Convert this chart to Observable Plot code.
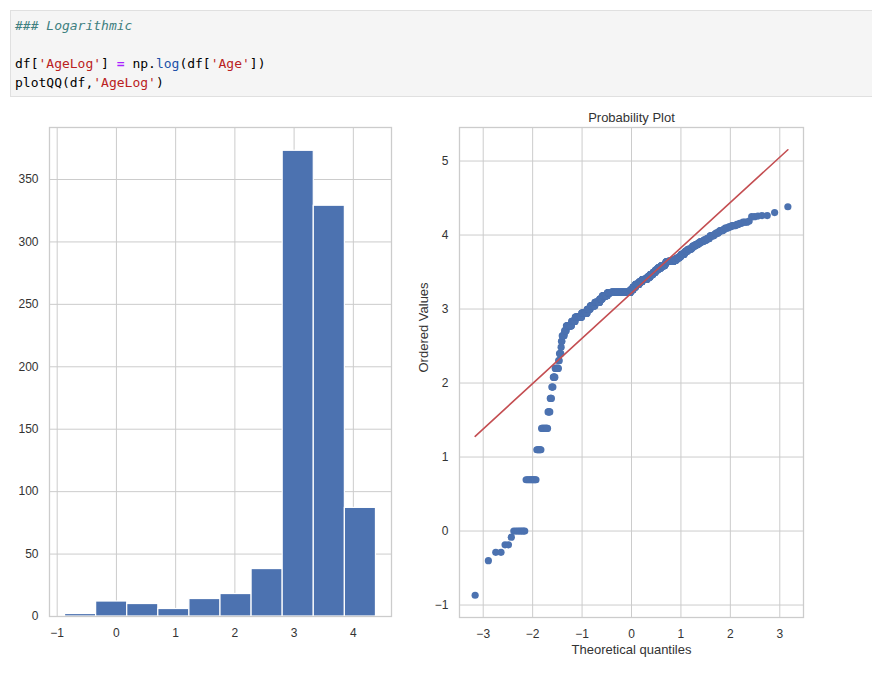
<!DOCTYPE html>
<html><head><meta charset="utf-8">
<script src="https://cdn.jsdelivr.net/npm/d3@7"></script>
<script src="https://cdn.jsdelivr.net/npm/@observablehq/plot@0.6"></script>
<style>
html,body{margin:0;padding:0;background:#fff;}
body{width:872px;height:675px;overflow:hidden;position:relative;font-family:"Liberation Sans",Arial,sans-serif;}
#code{position:absolute;left:10px;top:10px;width:870px;height:87px;background:#f5f5f5;border:1px solid #e0e0e0;box-sizing:border-box;font-family:"DejaVu Sans Mono",monospace;font-size:13px;line-height:19px;padding:5px 0 0 4px;color:#000;}
#code div{white-space:pre;height:19px;}
.cm{color:#408080;font-style:italic}
.s{color:#ba2121}
.o{color:#aa22ff;font-weight:bold}
.f{color:#2050a8}
#p1{position:absolute;left:0;top:100px;}
#p2{position:absolute;left:400px;top:100px;}
</style></head>
<body>
<div id="code"><div class="cm">### Logarithmic</div><div></div><div>df[<span class="s">'AgeLog'</span>] <span class="o">=</span> np.<span class="f">log</span>(df[<span class="s">'Age'</span>])</div><div>plotQQ(df,<span class="s">'AgeLog'</span>)</div></div>
<div id="p1"></div>
<div id="p2"></div>
<script>
// Titanic ages (distinct values and how many passengers have each)
const ageValues = [0.42,0.67,0.75,0.83,0.92,1,2,3,4,5,6,7,8,9,10,11,12,13,14,14.5,15,16,17,18,19,20,20.5,21,22,23,23.5,24,24.5,25,26,27,28,28.5,29,30,30.5,31,32,32.5,33,34,34.5,35,36,36.5,37,38,39,40,40.5,41,42,43,44,45,45.5,46,47,48,49,50,51,52,53,54,55,55.5,56,57,58,59,60,61,62,63,64,65,66,70,70.5,71,74,80];
const ageCounts = [1,1,2,2,1,7,10,6,10,4,3,3,4,8,2,4,1,2,6,1,5,17,13,26,25,15,1,24,27,15,1,30,1,23,18,18,25,2,20,25,2,17,18,2,15,15,1,18,22,1,6,11,14,13,2,6,13,5,9,12,2,3,9,8,6,9,7,6,1,8,2,1,4,2,5,2,4,3,4,2,2,3,1,2,1,2,1,1];
// missing ages filled with class means
const fillValues = [25.14, 29.88, 38.23];
const fillCounts = [136, 11, 30];

const histXTicks = [-1,0,1,2,3,4];
const histYTicks = [0,50,100,150,200,250,300,350];
const qqXTicks = [-3,-2,-1,0,1,2,3];
const qqYTicks = [-1,0,1,2,3,4,5];

const blue = "#4c72b0", red = "#c44e52", gridC = "#cccccc", textC = "#333333";
const fmt = d => d < 0 ? "\u2212" + Math.abs(d) : String(d);

// build the column
const ages = [];
ageValues.forEach((v,i)=>{for(let k=0;k<ageCounts[i];k++) ages.push(v);});
fillValues.forEach((v,i)=>{for(let k=0;k<fillCounts[i];k++) ages.push(v);});
const ageLog = ages.map(a => Math.log(a));

// histogram (10 equal bins, like plt.hist)
const lo = d3.min(ageLog), hi = d3.max(ageLog);
const edges = d3.range(11).map(i => lo + i*(hi-lo)/10);
const bins = d3.bin().domain([lo,hi]).thresholds(edges.slice(1,-1))(ageLog)
  .map(b => ({x1:b.x0, x2:b.x1, n:b.length}));
const maxN = d3.max(bins, b=>b.n);

const style = {fontSize:"12px", fontFamily:"'Liberation Sans', Arial, sans-serif", color:textC, background:"transparent", overflow:"visible"};

const h = Plot.plot({
  width: 400, height: 556,
  marginLeft: 49, marginRight: 9, marginTop: 27, marginBottom: 40,
  style,
  x: {domain: [lo - 0.05*(hi-lo), hi + 0.05*(hi-lo)]},
  y: {domain: [0, maxN*1.05]},
  marks: [
    Plot.gridX(histXTicks, {stroke: gridC, strokeOpacity: 1, strokeWidth: 1}),
    Plot.gridY(histYTicks, {stroke: gridC, strokeOpacity: 1, strokeWidth: 1}),
    Plot.rectY(bins, {x1:"x1", x2:"x2", y:"n", fill: blue, stroke: "#fff", strokeWidth: 1.2, inset: 0}),
    Plot.frame({stroke: gridC, strokeWidth: 1.3}),
    Plot.axisX(histXTicks, {tickSize: 0, tickPadding: 12, tickFormat: fmt, label: null}),
    Plot.axisY(histYTicks, {tickSize: 0, tickPadding: 11, tickFormat: fmt, label: null})
  ]
});
document.getElementById("p1").appendChild(h);

// probability plot (Filliben order statistic medians)
const ppf = p => {
  const a=[-3.969683028665376e+01,2.209460984245205e+02,-2.759285104469687e+02,1.383577518672690e+02,-3.066479806614716e+01,2.506628277459239e+00];
  const b=[-5.447609879822406e+01,1.615858368580409e+02,-1.556989798598866e+02,6.680131188771972e+01,-1.328068155288572e+01];
  const c=[-7.784894002430293e-03,-3.223964580411365e-01,-2.400758277161838e+00,-2.549732539343734e+00,4.374664141464968e+00,2.938163982698783e+00];
  const d=[7.784695709041462e-03,3.224671290700398e-01,2.445134137142996e+00,3.754408661907416e+00];
  const pl=0.02425; let q,r;
  if(p<pl){q=Math.sqrt(-2*Math.log(p));return (((((c[0]*q+c[1])*q+c[2])*q+c[3])*q+c[4])*q+c[5])/((((d[0]*q+d[1])*q+d[2])*q+d[3])*q+1);}
  if(p<=1-pl){q=p-0.5;r=q*q;return (((((a[0]*r+a[1])*r+a[2])*r+a[3])*r+a[4])*r+a[5])*q/(((((b[0]*r+b[1])*r+b[2])*r+b[3])*r+b[4])*r+1);}
  q=Math.sqrt(-2*Math.log(1-p));return -(((((c[0]*q+c[1])*q+c[2])*q+c[3])*q+c[4])*q+c[5])/((((d[0]*q+d[1])*q+d[2])*q+d[3])*q+1);
};
const n = ageLog.length;
const osr = ageLog.slice().sort(d3.ascending);
const mU = d3.range(n).map(i => (i+1 - 0.3175)/(n + 0.365));
mU[n-1] = Math.pow(0.5, 1/n); mU[0] = 1 - mU[n-1];
const osm = mU.map(ppf);
const pts = osm.map((x,i)=>({x, y: osr[i]}));
const mx = d3.mean(osm), my = d3.mean(osr);
const slope = d3.sum(osm, (x,i)=>(x-mx)*(osr[i]-my)) / d3.sum(osm, x=>(x-mx)**2);
const icpt = my - slope*mx;
const fit = [osm[0], osm[n-1]].map(x => ({x, y: icpt + slope*x}));
const xe = d3.extent(osm), ye = d3.extent([...osr, ...fit.map(d=>d.y)]);
const pad = (e)=>[e[0]-0.05*(e[1]-e[0]), e[1]+0.05*(e[1]-e[0])];

const q = Plot.plot({
  width: 472, height: 576,
  marginLeft: 59, marginRight: 69, marginTop: 27, marginBottom: 59,
  style,
  x: {domain: pad(xe)},
  y: {domain: pad(ye)},
  marks: [
    Plot.gridX(qqXTicks, {stroke: gridC, strokeOpacity: 1, strokeWidth: 1}),
    Plot.gridY(qqYTicks, {stroke: gridC, strokeOpacity: 1, strokeWidth: 1}),
    Plot.frame({stroke: gridC, strokeWidth: 1.3}),
    Plot.dot(pts, {x:"x", y:"y", r: 3.6, fill: blue, stroke: "none"}),
    Plot.line(fit, {x:"x", y:"y", stroke: red, strokeWidth: 1.6}),
    Plot.axisX(qqXTicks, {tickSize: 0, tickPadding: 12, tickFormat: fmt, label: null}),
    Plot.axisY(qqYTicks, {tickSize: 0, tickPadding: 11, tickFormat: fmt, label: null}),
    Plot.text(["Theoretical quantiles"], {frameAnchor: "bottom", dy: 32, fontSize: 13, fill: textC, lineAnchor: "middle"}),
    Plot.text(["Ordered Values"], {frameAnchor: "left", dx: -36, rotate: -90, fontSize: 13, fill: textC, lineAnchor: "middle"}),
    Plot.text(["Probability Plot"], {frameAnchor: "top", dy: -10, fontSize: 13, fill: textC, lineAnchor: "middle"})
  ]
});
document.getElementById("p2").appendChild(q);
</script>
</body></html>
